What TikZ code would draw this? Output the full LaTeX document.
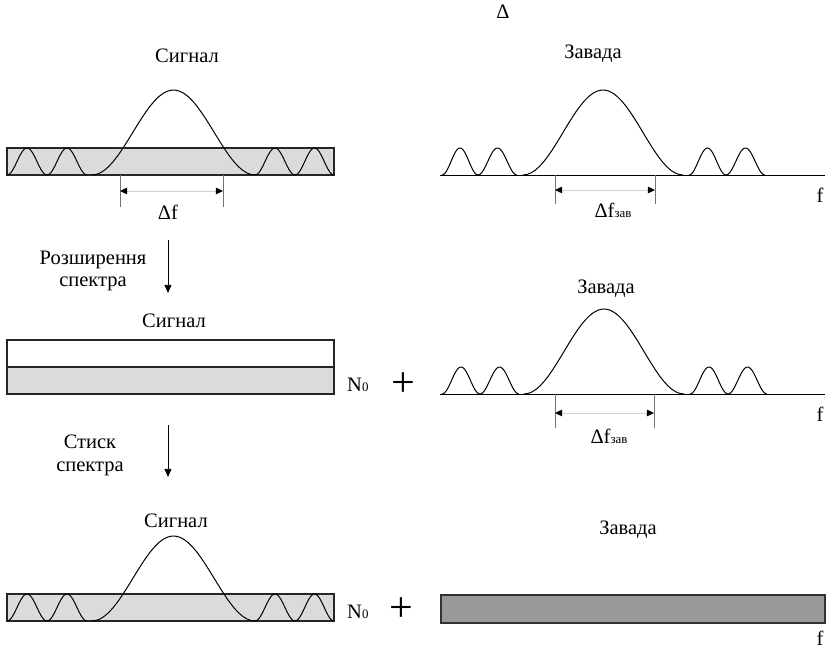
\documentclass[tikz,border=0pt]{standalone}
\usepackage{fontspec}
\setmainfont{Liberation Serif}
\usetikzlibrary{arrows.meta,positioning,calc}

\begin{document}
\begin{tikzpicture}[x=0.03cm,y=-0.03cm,
        lbl/.style={font=\fontsize{17.5}{20}\selectfont,anchor=base,inner sep=0pt},
        twoline/.style={font=\fontsize{17.5}{19.5}\selectfont,align=center,inner sep=0pt},
        curve/.style={line width=0.85pt,line join=round},
        band/.style={draw=black!85,line width=0.9pt,fill=black!14},
        tick/.style={draw=black!55,line width=0.7pt},
        dim/.style={draw=black!18,line width=0.8pt,{Triangle[black,length=6pt,width=5.5pt]}-{Triangle[black,length=6pt,width=5.5pt]}},
        flow/.style={line width=0.8pt,-{Triangle[length=7pt,width=6pt]}},
        plus/.style={font=\fontsize{36}{36}\selectfont,inner sep=0pt}]
        \useasboundingbox (0,0) rectangle (831,651);

        % Signal before spreading
        \node[lbl] (sig1) at (187,63) {Сигнал};
        \draw[band] (7,148) rectangle (334,175);
        \foreach \a/\b/\h in {7/47/27, 47/87/27, 92/255/85, 255/295/27, 295/334/27}
            \draw[curve] plot[domain=\a:\b,samples=40] (\x,{175-\h*(1-cos(360*((\x-\a)/(\b-\a))))/2});
        \coordinate (t1l) at (120,175);
        \coordinate (t1r) at (223,175);
        \coordinate (b1l) at (120,207);
        \coordinate (b1r) at (223,207);
        \coordinate (d1l) at (120,191);
        \coordinate (d1r) at (223,191);
        \draw[tick] (t1l) -- (b1l);
        \draw[tick] (t1r) -- (b1r);
        \draw[dim] (d1l) -- (d1r);
        \node[lbl] (df1) at (168,220) {Δf};

        % Interference, first row
        \node[lbl] (delta) at (503,19) {Δ};
        \node[lbl] (zav1) at (593,59) {Завада};
        \coordinate (ax1s) at (440,175);
        \coordinate (ax1e) at (825,175);
        \draw[curve] (ax1s) -- (ax1e);
        \foreach \a/\b/\h in {442/478/27, 478/517/27, 523/683/85, 689/726/27, 726/765/27}
            \draw[curve] plot[domain=\a:\b,samples=40] (\x,{175-\h*(1-cos(360*((\x-\a)/(\b-\a))))/2});
        \coordinate (t2l) at (555,175);
        \coordinate (t2r) at (655,175);
        \coordinate (b2l) at (555,204);
        \coordinate (b2r) at (655,204);
        \coordinate (d2l) at (555,190);
        \coordinate (d2r) at (655,190);
        \draw[tick] (t2l) -- (b2l);
        \draw[tick] (t2r) -- (b2r);
        \draw[dim] (d2l) -- (d2r);
        \node[lbl] (dfz1) at (613,218) {Δf{\fontsize{11}{11}\selectfont зав}};
        \node[lbl] (f1) at (820,203) {f};

        % Spreading
        \coordinate (s1) at (168,240);
        \coordinate (e1) at (168,293);
        \draw[flow] (s1) -- (e1);
        \node[twoline] (spread) at (93,271) {Розширення\\спектра};

        % Signal after spreading
        \node[lbl] (sig2) at (174,328) {Сигнал};
        \draw[draw=black!85,line width=0.9pt,fill=white] (7,340) rectangle (334,367);
        \draw[band] (7,367) rectangle (334,394);
        \node[lbl,anchor=base west] (n1) at (347,392) {N{\fontsize{11}{11}\selectfont 0}};
        \node[plus] (plus1) at (403,385) {+};

        % Interference, second row
        \node[lbl] (zav2) at (606,294) {Завада};
        \coordinate (ax2s) at (440,394);
        \coordinate (ax2e) at (825,394);
        \draw[curve] (ax2s) -- (ax2e);
        \foreach \a/\b/\h in {442/480/27, 480/519/27, 524/684/85, 690/728/27, 728/767/27}
            \draw[curve] plot[domain=\a:\b,samples=40] (\x,{394-\h*(1-cos(360*((\x-\a)/(\b-\a))))/2});
        \coordinate (t3l) at (555,394);
        \coordinate (t3r) at (654,394);
        \coordinate (b3l) at (555,428);
        \coordinate (b3r) at (654,428);
        \coordinate (d3l) at (555,413);
        \coordinate (d3r) at (654,413);
        \draw[tick] (t3l) -- (b3l);
        \draw[tick] (t3r) -- (b3r);
        \draw[dim] (d3l) -- (d3r);
        \node[lbl] (dfz2) at (609,444) {Δf{\fontsize{11}{11}\selectfont зав}};
        \node[lbl] (f2) at (820,421) {f};

        % Despreading
        \coordinate (s2) at (168,425);
        \coordinate (e2) at (168,477);
        \draw[flow] (s2) -- (e2);
        \node[twoline] (squeeze) at (90,455) {Стиск\\спектра};

        % Signal after despreading
        \node[lbl] (sig3) at (176,527) {Сигнал};
        \draw[band] (7,594) rectangle (334,621);
        \foreach \a/\b/\h in {7/47/27, 47/87/27, 92/255/85, 255/295/27, 295/334/27}
            \draw[curve] plot[domain=\a:\b,samples=40] (\x,{621-\h*(1-cos(360*((\x-\a)/(\b-\a))))/2});
        \node[lbl,anchor=base west] (n2) at (347,618) {N{\fontsize{11}{11}\selectfont 0}};
        \node[plus] (plus2) at (401,610) {+};

        % Interference after despreading
        \node[lbl] (zav3) at (628,534) {Завада};
        \draw[draw=black!80,line width=1.2pt,fill=black!40] (441,595) rectangle (825,623);
        \node[lbl] (f3) at (820,645) {f};
    \end{tikzpicture}
\end{document}
